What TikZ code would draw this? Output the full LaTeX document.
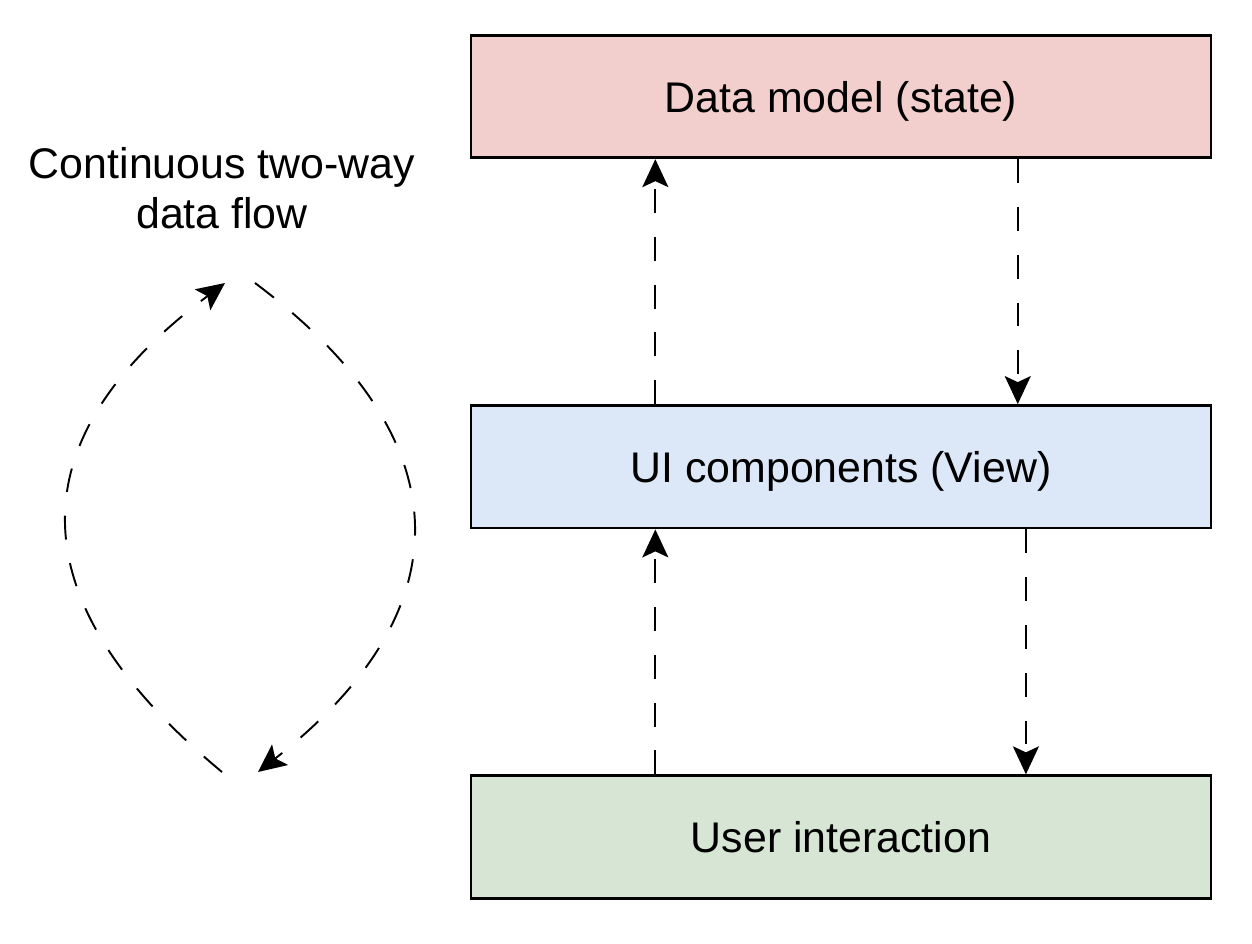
\documentclass[tikz,border=0pt]{standalone}
\usepackage{fontspec}
\setmainfont{Liberation Sans}
\usetikzlibrary{arrows.meta, positioning, calc}

\definecolor{modelfill}{HTML}{F2CFCD}
\definecolor{viewfill}{HTML}{DCE7F8}
\definecolor{userfill}{HTML}{D7E5D4}

\begin{document}
\begin{tikzpicture}[
    x=0.02cm, y=-0.02cm,
    node distance=4.9cm,
    layer/.style={rectangle, minimum width=14.8cm, minimum height=2.45cm, text depth=0pt, text centered, draw=black, line width=1.6pt, font=\fontsize{24.4}{29}\selectfont},
    flow/.style={line width=1.1pt, dash pattern=on 13.6pt off 13.6pt, -{Stealth[length=0.56cm, width=0.52cm, inset=0.12cm]}}
]
\useasboundingbox (0,0) rectangle (1252,944);

% Layers
\node (model) [layer, fill=modelfill] at (841,96.5) {Data model (state)};
\node (view) [layer, fill=viewfill, below=of model] {UI components (View)};
\node (user) [layer, fill=userfill, below=of view] {User interaction};

% Label and loop
\node (caption) [align=center, font=\fontsize{24.4}{28.5}\selectfont] at (222,188) {Continuous two-way\\data flow};
\coordinate (loopbot) at (222,772);
\coordinate (looptop) at (225,283);
\coordinate (looptopr) at (255,283);
\coordinate (loopbotr) at (258,772);

% Arrows
\draw [flow] ($(view.north west)!0.25!(view.north east)$) -- ($(model.south west)!0.25!(model.south east)$);
\draw [flow] ($(model.south west)!0.738!(model.south east)$) -- ($(view.north west)!0.738!(view.north east)$);
\draw [flow] ($(user.north west)!0.25!(user.north east)$) -- ($(view.south west)!0.25!(view.south east)$);
\draw [flow] ($(view.south west)!0.749!(view.south east)$) -- ($(user.north west)!0.749!(user.north east)$);
\draw [flow] (loopbot) .. controls (15,600) and (15,440) .. (looptop);
\draw [flow] (looptopr) .. controls (465,440) and (465,610) .. (loopbotr);

\end{tikzpicture}
\end{document}
